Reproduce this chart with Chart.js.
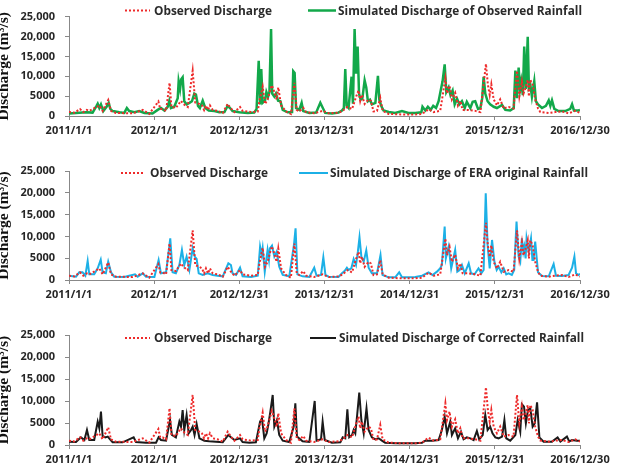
<!DOCTYPE html>
<html>
<head>
<meta charset="utf-8">
<script src="https://cdn.jsdelivr.net/npm/chart.js@4/dist/chart.umd.min.js"></script>
<style>
  body { margin: 0; background: #fff; }
  #wrap { position: relative; width: 618px; height: 467px; background: #fff; overflow: hidden; }
  canvas { position: absolute; left: 0; }
</style>
</head>
<body>
<div id="wrap">
  <canvas id="panel1" width="618" height="150" style="top:0px"></canvas>
  <canvas id="panel2" width="618" height="155" style="top:150px"></canvas>
  <canvas id="panel3" width="618" height="157" style="top:310px"></canvas>
</div>
<script>
// x values are days counted from 2011/1/1
const xTickLabels = ['2011/1/1', '2012/1/1', '2012/12/31', '2013/12/31', '2014/12/31', '2015/12/31', '2016/12/30'];
const yTickLabels = ['0', '5000', '10,000', '15,000', '20,000', '25,000'];

// observed discharge (m3/s), same in all three panels
const obsDays = [0,23,47,61,76,87,130,144,168,180,201,273,316,344,383,391,401,416,431,439,458,480,490,509,530,541,559,570,579,587,596,604,616,637,659,680,694,709,733,744,780,809,816,830,840,851,869,880,890,897,909,930,951,966,976,987,1004,1016,1051,1087,1113,1155,1173,1193,1213,1231,1241,1248,1255,1267,1284,1294,1305,1320,1334,1344,1370,1427,1484,1513,1541,1563,1591,1613,1620,1631,1641,1655,1667,1677,1687,1713,1741,1763,1787,1795,1803,1810,1820,1834,1848,1863,1884,1905,1920,1930,1941,1948,1955,1966,1971,1977,1987,1998,2010,2020,2056,2084,2113,2141,2170,2190];
const obsFlow = [985,830,1740,985,1520,1290,2650,1290,4020,1290,760,680,1520,530,3640,1740,1740,1290,8340,2270,2050,3790,3030,2270,11370,3410,3030,2650,1520,2650,1520,2650,1520,1290,760,3030,1900,985,2270,1290,985,1140,3790,7350,3030,4170,7730,6060,4170,7200,2650,1140,530,8340,1520,1140,2050,985,680,1290,680,830,1290,2270,1740,4930,6440,3790,5310,3030,4170,3790,1140,1290,4550,1290,530,380,380,530,1670,985,1290,9480,5690,7580,4170,5840,2650,3790,1520,1520,1290,985,13110,7960,5310,7960,4170,2650,4170,1900,2270,1900,11370,4930,8720,5690,6820,9100,4930,9100,7960,4170,1900,985,760,985,1140,680,1290,760];

// simulated discharge of observed rainfall
const simObsDays = [0,30,73,101,118,123,130,137,147,161,170,177,187,216,237,248,258,280,301,323,358,380,394,409,423,430,437,451,466,470,476,481,487,494,504,516,527,537,544,553,561,573,584,599,623,644,666,680,690,701,730,766,794,804,813,819,824,830,840,846,853,859,866,871,880,887,896,906,916,937,956,961,967,973,987,997,1004,1030,1059,1077,1098,1127,1155,1170,1178,1184,1190,1198,1211,1217,1224,1230,1237,1243,1250,1257,1267,1274,1281,1290,1298,1313,1324,1330,1338,1348,1370,1398,1427,1455,1484,1510,1515,1527,1538,1550,1561,1573,1584,1593,1601,1610,1617,1627,1635,1644,1653,1663,1673,1684,1696,1705,1720,1730,1741,1753,1763,1771,1777,1784,1794,1805,1820,1834,1856,1870,1891,1906,1913,1920,1927,1933,1938,1945,1951,1958,1966,1971,1977,1984,1994,2001,2010,2027,2044,2056,2063,2070,2080,2098,2127,2148,2156,2164,2184,2190];
const simObsFlow = [620,770,930,850,2550,3090,2010,2930,1240,2320,3320,1780,1240,930,770,2010,1240,930,1240,770,620,1540,2010,1390,2320,3860,2010,2320,4480,8720,6790,9260,9730,3710,2930,3320,3710,5640,5400,2550,2010,3860,2010,1390,1240,930,1000,2550,2010,1240,930,770,850,1780,13900,2930,11810,3320,3860,6020,4860,6020,21850,5640,4860,5640,3860,3710,1540,930,1000,11270,10810,2010,1540,3320,1240,770,850,3320,770,620,850,1390,2010,11810,2550,2010,9880,3090,21850,10650,17450,5640,4090,4320,8960,7180,3710,4090,2930,3320,10110,4090,2550,1390,1000,770,1240,770,770,930,2320,1390,2320,1540,2550,2010,3710,6410,8720,12970,6020,7180,5250,6410,2930,4320,2930,3710,2010,3550,2010,3550,3710,1780,2010,4480,9880,5640,3710,2930,2320,2010,2780,1540,1390,2010,11430,4480,12200,6790,8720,5250,17450,6790,19920,7180,7950,4860,8720,3710,2930,2010,2550,3940,2550,3940,1780,1240,1240,1780,2930,1390,1390,1540];

// simulated discharge of ERA original rainfall
const simEraDays = [0,30,44,58,70,80,87,108,123,136,144,158,168,180,194,237,258,283,294,316,330,366,384,394,416,434,444,458,473,484,494,504,516,530,539,547,556,573,594,616,637,659,683,694,701,716,733,744,780,809,819,826,830,839,851,857,861,870,880,890,901,916,944,964,971,979,1001,1030,1051,1061,1080,1090,1099,1113,1155,1170,1181,1191,1198,1210,1220,1230,1238,1245,1253,1263,1274,1284,1298,1320,1335,1344,1370,1398,1415,1427,1455,1484,1513,1541,1558,1577,1591,1598,1610,1615,1627,1638,1655,1664,1674,1684,1696,1713,1723,1738,1755,1767,1777,1786,1794,1803,1813,1823,1833,1841,1853,1863,1874,1884,1898,1908,1918,1927,1934,1941,1947,1951,1957,1961,1970,1980,1986,1991,1998,2010,2027,2056,2077,2087,2113,2141,2156,2166,2173,2184,2190];
const simEraFlow = [990,770,1760,1760,990,4360,1300,1300,2680,4670,1760,1530,4210,1760,770,690,990,1300,770,1530,770,690,4590,1530,1760,9560,1760,1530,3440,6890,3440,5360,2300,7270,5360,4820,1530,1150,1530,1150,990,840,3830,3440,1530,1150,2830,840,690,990,7650,5740,7270,1910,6890,4590,7270,7880,5360,6500,3060,1150,840,8030,11860,1300,840,690,2830,990,1150,5200,1150,770,690,1530,2070,2830,2300,2680,4820,3440,6500,9790,5360,4210,6810,2830,1530,1530,5740,1150,610,610,1760,610,610,690,990,1760,1150,1910,2680,3440,12240,4970,7650,2680,6890,1910,2300,3440,1530,3830,1530,1300,2680,1530,2300,19890,8030,2680,9180,4210,2300,3060,1760,2680,1300,1530,1150,2300,13390,5360,4210,9560,6500,7650,4970,9560,6500,9560,4590,4590,8800,1760,920,840,3670,990,920,1150,2830,5360,1530,1150,1450];

// simulated discharge of corrected rainfall
const simCorDays = [0,30,51,66,77,87,108,123,130,137,144,156,166,176,187,230,277,287,330,373,384,394,416,433,441,458,473,480,487,494,504,513,523,530,538,547,559,580,601,630,659,683,694,709,733,744,773,801,819,827,837,847,854,863,873,880,891,901,916,944,963,970,977,1001,1030,1053,1061,1080,1087,1096,1127,1163,1173,1184,1193,1201,1213,1220,1227,1235,1244,1253,1263,1275,1284,1298,1313,1327,1341,1355,1398,1441,1484,1513,1527,1555,1584,1598,1610,1620,1634,1641,1655,1667,1680,1691,1705,1720,1734,1748,1758,1773,1784,1794,1805,1815,1827,1841,1856,1866,1874,1891,1913,1923,1934,1941,1950,1958,1967,1977,1987,1996,2006,2016,2034,2070,2094,2106,2134,2144,2156,2177,2190];
const simCorFlow = [760,680,1740,1140,3410,1140,1140,5310,3790,7580,2050,1740,1900,1290,610,610,1740,680,530,530,1740,1140,985,5690,2270,1740,5310,4170,7960,3410,6820,2650,3410,4170,2270,4780,1520,985,830,760,610,2270,1740,1140,1520,680,530,610,5310,6060,1520,2650,4550,7580,11370,4170,5690,2270,985,680,4170,9480,1900,830,680,10010,985,1290,5310,1140,530,610,1740,1520,8110,1740,2270,3410,2650,6820,11900,5690,2650,8340,3410,1740,1290,1520,985,530,380,380,380,530,985,985,1140,3410,6440,2650,5310,2270,3790,1520,3030,1290,1740,1520,1140,3180,1290,2270,6820,3410,4170,2650,1740,1520,1900,5690,1520,985,2270,5690,3030,9250,8720,4930,7960,8340,4170,4930,9700,1740,760,760,1740,760,1900,830,1140,985,985];

function toPoints(days, flow) {
    const n = Math.min(days.length, flow.length);
    const pts = [];
    for (let i = 0; i < n; i++) pts.push({ x: days[i], y: flow[i] });
    return pts;
}

// draws the line-sample legend inside the plot, at fixed spots
const lineLegend = {
    id: 'lineLegend',
    afterDraw(chart, args, opts) {
        const ctx = chart.ctx;
        ctx.save();
        chart.data.datasets.forEach((ds, i) => {
            const item = opts.items[i];
            if (!item) return;
            ctx.strokeStyle = ds.borderColor;
            ctx.lineWidth = ds.borderWidth;
            ctx.setLineDash(ds.borderDash || []);
            ctx.beginPath();
            ctx.moveTo(item.x, opts.y);
            ctx.lineTo(item.x + item.w, opts.y);
            ctx.stroke();
            ctx.setLineDash([]);
            ctx.fillStyle = '#2b2b2b';
            ctx.font = opts.font;
            ctx.textBaseline = 'middle';
            ctx.fillText(ds.label, item.tx, opts.y + 1, item.maxW);
        });
        ctx.restore();
    }
};

const tickFont = { family: "'Open Sans', sans-serif", size: 11, weight: 'bold' };

function makePanel(id, simLabel, simColor, simWidth, simDays, simFlow, padTop, padBottom, legendY, legendItems) {
    return new Chart(document.getElementById(id).getContext('2d'), {
        type: 'line',
        data: {
            datasets: [
                {
                    label: 'Observed Discharge',
                    data: toPoints(obsDays, obsFlow),
                    borderColor: '#ee2a2a',
                    borderWidth: 2,
                    borderDash: [2, 2],
                    pointRadius: 0,
                    tension: 0,
                    fill: false
                },
                {
                    label: simLabel,
                    data: toPoints(simDays, simFlow),
                    borderColor: simColor,
                    borderWidth: simWidth,
                    pointRadius: 0,
                    tension: 0,
                    fill: false
                }
            ]
        },
        options: {
            responsive: false,
            animation: false,
            layout: { padding: { top: padTop, bottom: padBottom, left: 0, right: 38 } },
            plugins: {
                legend: { display: false },
                tooltip: { enabled: false },
                lineLegend: {
                    y: legendY,
                    items: legendItems,
                    font: "bold 12px 'Open Sans', sans-serif"
                }
            },
            scales: {
                x: {
                    type: 'linear',
                    min: 0,
                    max: 2190,
                    afterFit: (s) => { s.height = 20; },
                    ticks: {
                        stepSize: 365,
                        autoSkip: false,
                        maxRotation: 0,
                        padding: 4,
                        color: '#262626',
                        font: tickFont,
                        callback: (value, index) => xTickLabels[index]
                    },
                    grid: { drawOnChartArea: false, drawTicks: true, tickLength: 4, color: '#888' },
                    border: { color: '#888', width: 1 }
                },
                y: {
                    min: 0,
                    max: 25000,
                    afterFit: (s) => { s.width = 69; },
                    ticks: {
                        stepSize: 5000,
                        padding: 10,
                        color: '#262626',
                        font: tickFont,
                        callback: (value, index) => yTickLabels[index]
                    },
                    grid: { drawOnChartArea: false, drawTicks: true, tickLength: 4, color: '#888' },
                    border: { color: '#888', width: 1 },
                    title: {
                        display: true,
                        text: 'Discharge (m³/s)',
                        color: '#111',
                        font: { family: "'Liberation Serif', 'Times New Roman', serif", size: 15.5, weight: 'bold' },
                        padding: { top: -5, bottom: 0 }
                    }
                }
            }
        },
        plugins: [lineLegend]
    });
}

makePanel('panel1', 'Simulated Discharge of Observed Rainfall', '#12a84a', 2.5, simObsDays, simObsFlow, 8, 14, 10.5,
    [{ x: 125, w: 25, tx: 154, maxW: 118 }, { x: 308, w: 28, tx: 338, maxW: 244 }]);
makePanel('panel2', 'Simulated Discharge of ERA original Rainfall', '#1cb0e6', 2, simEraDays, simEraFlow, 21, 5, 23,
    [{ x: 121, w: 24, tx: 150, maxW: 118 }, { x: 299, w: 29, tx: 330, maxW: 258 }]);
makePanel('panel3', 'Simulated Discharge of Corrected Rainfall', '#1a1a1a', 2, simCorDays, simCorFlow, 25, 2, 28,
    [{ x: 125, w: 25, tx: 154, maxW: 118 }, { x: 310, w: 26, tx: 339, maxW: 245 }]);
</script>
</body>
</html>
